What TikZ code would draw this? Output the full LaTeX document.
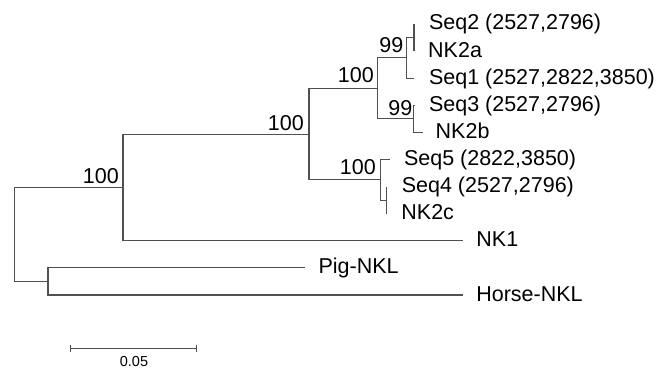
\documentclass[tikz,border=0pt]{standalone}
\usepackage{fontspec}
\setmainfont{Liberation Sans}
\definecolor{brc}{RGB}{80,80,80}
\begin{document}
\begin{tikzpicture}[x=1pt,y=-1pt,
  br/.style={draw=brc, line width=1.1pt},
  tiplabel/.style={anchor=base west, inner sep=0pt, font=\fontsize{21.5}{25}\selectfont},
  boot/.style={anchor=base east, inner sep=0pt, font=\fontsize{21.5}{25}\selectfont},
  scalelabel/.style={anchor=base, inner sep=0pt, font=\fontsize{14.5}{17}\selectfont}]
\useasboundingbox (0,0) rectangle (662,369);
% internal nodes
\coordinate (A) at (414,37.55);
\coordinate (B) at (406.7,57.9);
\coordinate (C) at (413.7,118.85);
\coordinate (D) at (377.5,88.4);
\coordinate (G) at (386.7,200.15);
\coordinate (F) at (380.7,179.8);
\coordinate (E) at (309,134.1);
\coordinate (H) at (123,187.45);
\coordinate (I) at (48,281.45);
\coordinate (R) at (14.7,234.45);
% tips
\coordinate (tSeq2) at (414,24);
\coordinate (tNK2a) at (414,51.1);
\coordinate (tSeq1) at (414,78.2);
\coordinate (tSeq3) at (415,105.3);
\coordinate (tNK2b) at (422.7,132.4);
\coordinate (tSeq5) at (390,159.5);
\coordinate (tSeq4) at (386.7,186.6);
\coordinate (tNK2c) at (386.7,213.7);
\coordinate (tNK1) at (463,240.8);
\coordinate (tPig) at (305,267.9);
\coordinate (tHorse) at (463,295);
% branches
\draw[br] (A) |- (tSeq2);
\draw[br] (A) |- (tNK2a);
\draw[br] (B) |- (A);
\draw[br] (B) |- (tSeq1);
\draw[br] (C) |- (tSeq3);
\draw[br] (C) |- (tNK2b);
\draw[br] (D) |- (B);
\draw[br] (D) |- (C);
\draw[br] (G) |- (tSeq4);
\draw[br] (G) |- (tNK2c);
\draw[br] (F) |- (tSeq5);
\draw[br] (F) |- (G);
\draw[br] (E) |- (D);
\draw[br] (E) |- (F);
\draw[br] (H) |- (E);
\draw[br] (H) |- (tNK1);
\draw[br] (I) |- (tPig);
\draw[br] (I) |- (tHorse);
\draw[br] (R) |- (H);
\draw[br] (R) |- (I);
% tip labels
\node[tiplabel] (lSeq2) at (428.8,30) {Seq2 (2527,2796)};
\node[tiplabel] (lNK2a) at (428,57.1) {NK2a};
\node[tiplabel] (lSeq1) at (428.8,84.2) {Seq1 (2527,2822,3850)};
\node[tiplabel] (lSeq3) at (428.8,111.3) {Seq3 (2527,2796)};
\node[tiplabel] (lNK2b) at (435.5,138.4) {NK2b};
\node[tiplabel] (lSeq5) at (403.8,165.5) {Seq5 (2822,3850)};
\node[tiplabel] (lSeq4) at (401.6,192.6) {Seq4 (2527,2796)};
\node[tiplabel] (lNK2c) at (401.2,219.7) {NK2c};
\node[tiplabel] (lNK1) at (476.2,246.8) {NK1};
\node[tiplabel] (lPig) at (318.4,273.9) {Pig-NKL};
\node[tiplabel] (lHorse) at (476.1,301) {Horse-NKL};
% bootstrap labels
\node[boot] (bB) at (403.5,52.5) {99};
\node[boot] (bC) at (412.5,115) {99};
\node[boot] (bD) at (374,83) {100};
\node[boot] (bF) at (376,175) {100};
\node[boot] (bE) at (304,130) {100};
\node[boot] (bH) at (119,183) {100};
% scale bar
\coordinate (s1) at (70.7,348.3);
\coordinate (s2) at (196.7,348.3);
\draw[br] (s1) -- (s2);
\draw[br] ([yshift=3.6pt]s1) -- ([yshift=-4pt]s1);
\draw[br] ([yshift=3.6pt]s2) -- ([yshift=-4pt]s2);
\node[scalelabel] (sl) at (134,366.3) {0.05};
\end{tikzpicture}
\end{document}
